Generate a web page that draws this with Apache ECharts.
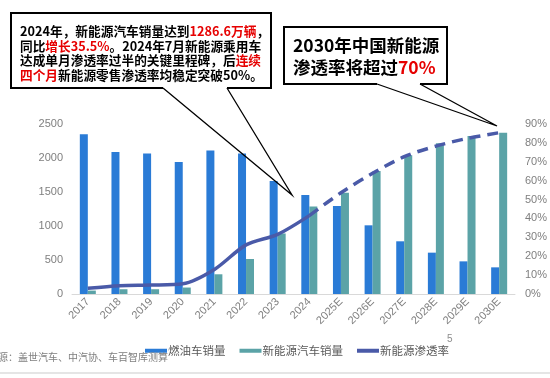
<!DOCTYPE html>
<html><head><meta charset="utf-8">
<script src="https://cdn.jsdelivr.net/npm/echarts@6/dist/echarts.min.js"></script>
<style>html,body{margin:0;padding:0;background:#fff}#c{width:550px;height:378px}</style>
</head><body><div id="c"></div>
<script>
const categories = ['2017','2018','2019','2020','2021','2022','2023','2024','2025E','2026E','2027E','2028E','2029E','2030E'];
const fuelSales = [2350, 2090, 2065, 1940, 2110, 2065, 1660, 1456, 1294, 1010, 775, 608, 480, 392];
const nevSales = [50, 70, 70, 95, 290, 515, 890, 1287, 1490, 1809, 2040, 2216, 2324, 2373];
const rateActual = [3.0, 4.4, 4.7, 5.4, 13.0, 26.0, 31.6, 41.5, null, null, null, null, null, null];
const rateForecast = [null, null, null, null, null, null, null, 41.5, 53.6, 63.9, 72.7, 78.3, 82.4, 85.4];
const leftTicks = [0, 2500, 500];
const rightTicks = [0, 90, 10];

const CJK = '"Noto Sans CJK SC", "Microsoft YaHei", sans-serif';
const chart = echarts.init(document.getElementById('c'), null, {renderer: 'canvas'});
const lineColor = '#4a5aa8';
chart.setOption({
  animation: false,
  backgroundColor: '#fff',
  grid: {left: 72, right: 35, top: 124, bottom: 84},
  legend: {
    left: 140, top: 340, itemWidth: 22, itemHeight: 4, itemGap: 14,
    textStyle: {fontFamily: CJK, fontSize: 11.5, color: '#595959', padding: [0,0,0,-4]},
    data: [
      {name: '燃油车销量', icon: 'rect'},
      {name: '新能源汽车销量', icon: 'rect'},
      {name: '新能源渗透率', icon: 'rect'}
    ]
  },
  xAxis: {
    type: 'category', data: categories,
    axisLine: {lineStyle: {color: '#d9d9d9', width: 1}},
    axisTick: {show: false},
    axisLabel: {rotate: 45, color: '#7f7f7f', fontSize: 11, fontFamily: 'Liberation Sans, Arial', margin: 6, interval: 0}
  },
  yAxis: [
    {type: 'value', min: leftTicks[0], max: leftTicks[1], interval: leftTicks[2],
     splitLine: {show: false}, axisLine: {show: false}, axisTick: {show: false},
     axisLabel: {color: '#7f7f7f', fontSize: 11, fontFamily: 'Liberation Sans, Arial', margin: 9,
                 formatter: function (v) { return String(v); }}},
    {type: 'value', min: rightTicks[0], max: rightTicks[1], interval: rightTicks[2],
     splitLine: {show: false}, axisLine: {show: false}, axisTick: {show: false},
     axisLabel: {color: '#7f7f7f', fontSize: 11, fontFamily: 'Liberation Sans, Arial', margin: 10, formatter: '{value}%'}}
  ],
  series: [
    {name: '燃油车销量', type: 'bar', data: fuelSales, barWidth: 8, barGap: '0%',
     itemStyle: {color: '#2a7bd6'}},
    {name: '新能源汽车销量', type: 'bar', data: nevSales, barWidth: 8,
     itemStyle: {color: '#5ba3a7'}},
    {name: '新能源渗透率', type: 'line', yAxisIndex: 1, data: rateActual, smooth: 0.3,
     showSymbol: false, symbol: 'none', connectNulls: false,
     lineStyle: {color: lineColor, width: 3.5}, itemStyle: {color: lineColor}, z: 5},
    {name: '新能源渗透率', type: 'line', yAxisIndex: 1, data: rateForecast, smooth: 0.3,
     showSymbol: false, symbol: 'none',
     lineStyle: {color: lineColor, width: 3.5, type: [11, 7]}, itemStyle: {color: lineColor}, z: 5}
  ],
  graphic: [
    {type: 'polyline', z: 100, shape: {points: [[163,88],[11,88],[11,13],[271,13],[271,88],[227,88]]},
     style: {stroke: '#000', lineWidth: 2, fill: null}},
    {type: 'polyline', z: 100, shape: {points: [[163,88],[292,195],[227,88]]},
     style: {stroke: '#000', lineWidth: 1.3, fill: null}},
    {type: 'text', z: 101, left: 20, top: 24,
     style: {
       text: '2024年，新能源汽车销量达到{r|1286.6万辆}，\n同比{r|增长35.5%}。2024年7月新能源乘用车\n达成单月渗透率过半的关键里程碑，后{r|连续}\n{r|四个月}新能源零售渗透率均稳定突破50%。',
       font: 'bold 12.7px ' + CJK, fill: '#000', lineHeight: 14.5,
       rich: {r: {fill: '#e60000', font: 'bold 12.7px ' + CJK, lineHeight: 14.5}}
     }},
    {type: 'polyline', z: 100, shape: {points: [[377,84],[284,84],[284,27],[447,27],[447,84],[420,84]]},
     style: {stroke: '#000', lineWidth: 2, fill: null}},
    {type: 'polyline', z: 100, shape: {points: [[377,84],[497,126],[420,84]]},
     style: {stroke: '#000', lineWidth: 1.3, fill: null}},
    {type: 'text', z: 101, left: 293, top: 34,
     style: {
       text: '2030年中国新能源\n渗透率将超过{r|70%}',
       font: 'bold 17.5px ' + CJK, fill: '#000', lineHeight: 22,
       rich: {r: {fill: '#e60000', font: 'bold 17.5px ' + CJK, lineHeight: 22}}
     }},
    {type: 'text', z: 101, left: -12, top: 352,
     style: {text: '来源：盖世汽车、中汽协、车百智库测算', font: '10px ' + CJK, fill: '#7f7f7f'}},
    {type: 'text', z: 101, left: 447, top: 334,
     style: {text: '5', font: '10px Liberation Sans, Arial', fill: '#8c8c8c'}},
    {type: 'line', z: 101, shape: {x1: 0, y1: 373, x2: 550, y2: 373},
     style: {stroke: '#dcdcdc', lineWidth: 1.5}}
  ]
});
</script></body></html>
